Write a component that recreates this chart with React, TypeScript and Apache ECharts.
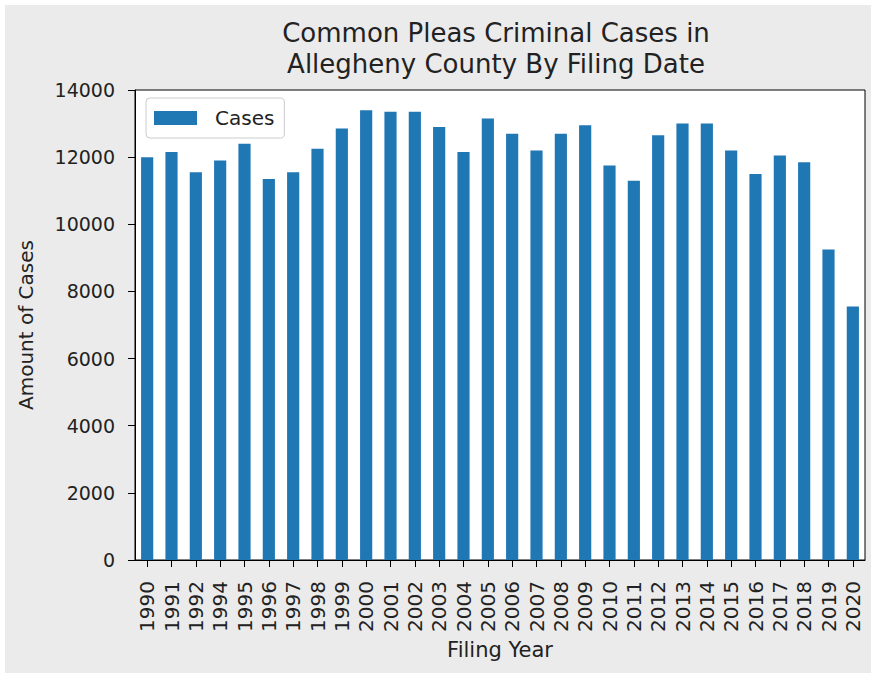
import React, { useEffect, useRef } from "react";
import * as echarts from "echarts";

const years = [
  "1990", "1991", "1992", "1994", "1995", "1996", "1997", "1998", "1999", "2000",
  "2001", "2002", "2003", "2004", "2005", "2006", "2007", "2008", "2009", "2010",
  "2011", "2012", "2013", "2014", "2015", "2016", "2017", "2018", "2019", "2020",
];
const cases = [
  12000, 12150, 11550, 11900, 12400, 11350, 11550, 12250, 12850, 13400,
  13350, 13350, 12900, 12150, 13150, 12700, 12200, 12700, 12950, 11750,
  11300, 12650, 13000, 13000, 12200, 11500, 12050, 11850, 9250, 7550,
];
const titleText = "Common Pleas Criminal Cases in\nAllegheny County By Filing Date";
const seriesName = "Cases";
const xName = "Filing Year";
const yName = "Amount of Cases";

const FONT = "'DejaVu Sans', sans-serif";

export default function App() {
  const ref = useRef<HTMLDivElement>(null);
  useEffect(() => {
    if (!ref.current) return;
    const chart = echarts.init(ref.current, undefined, { renderer: "svg" });
    chart.setOption({
      animation: false,
      backgroundColor: "#ffffff",
      graphic: [
        {
          type: "rect",
          z: -10,
          silent: true,
          shape: { x: 5, y: 5, width: 866, height: 668 },
          style: { fill: "#ebebeb" },
        },
      ],
      title: {
        text: titleText,
        left: 491,
        top: 12,
        textAlign: "center",
        textStyle: {
          fontFamily: FONT,
          fontSize: 26,
          fontWeight: "normal",
          color: "#222",
          lineHeight: 31,
        },
      },
      legend: {
        left: 146,
        top: 98,
        orient: "vertical",
        itemWidth: 43,
        itemHeight: 14,
        padding: [10, 10, 10, 8],
        borderColor: "#cccccc",
        borderWidth: 1,
        borderRadius: 4,
        backgroundColor: "#ffffff",
        data: [{ name: seriesName, icon: "rect" }],
        textStyle: {
          fontFamily: FONT,
          fontSize: 20,
          color: "#222",
          padding: [0, 0, 0, 13],
        },
      },
      grid: {
        left: 135,
        right: 6,
        top: 90,
        bottom: 113,
        show: true,
        backgroundColor: "#ffffff",
        borderColor: "#000000",
        borderWidth: 1,
      },
      xAxis: {
        type: "category",
        data: years,
        name: xName,
        nameLocation: "middle",
        nameGap: 77,
        nameTextStyle: { fontFamily: FONT, fontSize: 21, color: "#222" },
        axisLine: { show: true, lineStyle: { color: "#000" } },
        axisTick: { show: true, alignWithLabel: true, length: 7, lineStyle: { color: "#000" } },
        axisLabel: {
          rotate: 90,
          interval: 0,
          fontFamily: FONT,
          fontSize: 20,
          color: "#222",
          margin: 21,
        },
        splitLine: { show: false },
      },
      yAxis: {
        type: "value",
        min: 0,
        max: 14000,
        interval: 2000,
        name: yName,
        nameLocation: "middle",
        nameGap: 99,
        nameTextStyle: { fontFamily: FONT, fontSize: 20, color: "#222" },
        axisLine: { show: true, lineStyle: { color: "#000" } },
        axisTick: { show: true, length: 7, lineStyle: { color: "#000" } },
        axisLabel: {
          fontFamily: FONT,
          fontSize: 19,
          color: "#222",
          margin: 20,
          formatter: (v: number) => String(v),
        },
        splitLine: { show: false },
      },
      series: [
        {
          name: seriesName,
          type: "bar",
          data: cases,
          barWidth: "50%",
          itemStyle: { color: "#1f77b4" },
        },
      ],
    });
    return () => chart.dispose();
  }, []);
  return (
    <div
      ref={ref}
      style={{ position: "absolute", left: 0, top: 0, width: 871, height: 673 }}
    />
  );
}
